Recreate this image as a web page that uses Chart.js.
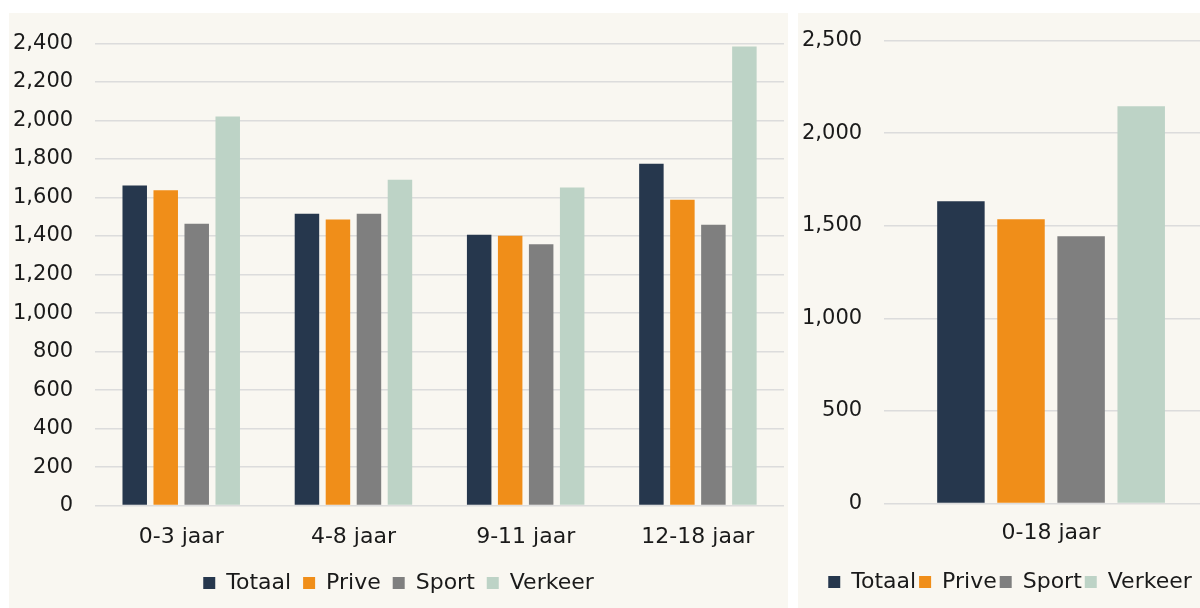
<!DOCTYPE html>
<html>
<head>
<meta charset="utf-8">
<script src="https://cdn.jsdelivr.net/npm/chart.js@4/dist/chart.umd.min.js"></script>
<style>
  html, body { margin: 0; padding: 0; background: #ffffff; overflow: hidden; width: 1200px; height: 608px; }
  .panel { position: absolute; top: 13px; height: 595px; background: #f9f7f1; }
  #leftBox { left: 9px; width: 779px; }
  #rightBox { left: 798px; width: 424px; }
</style>
</head>
<body>
<div class="panel" id="leftBox"><canvas id="leftChart"></canvas></div>
<div class="panel" id="rightBox"><canvas id="rightChart"></canvas></div>
<script>
// categories
const ageGroups = ["0-3 jaar", "4-8 jaar", "9-11 jaar", "12-18 jaar"];
const totalGroup = ["0-18 jaar"];

// series per age group
const totaal = [1662, 1516, 1407, 1775];
const prive = [1638, 1486, 1402, 1588];
const sport = [1464, 1516, 1358, 1459];
const verkeer = [2021, 1693, 1652, 2385];

// series for the whole 0-18 group
const totaalAll = [1633];
const priveAll = [1536];
const sportAll = [1444];
const verkeerAll = [2146];

const seriesNames = ["Totaal", "Prive", "Sport", "Verkeer"];
const seriesColors = ["#26374d", "#f08e19", "#7f7f7f", "#bdd3c6"];

Chart.defaults.font.family = "'DejaVu Sans', Verdana, sans-serif";
Chart.defaults.font.size = 22;
Chart.defaults.color = "#1a1a1a";
Chart.defaults.animation = false;

function makeDatasets(lists) {
  return lists.map((vals, i) => ({
    label: seriesNames[i],
    data: vals,
    backgroundColor: seriesColors[i],
    borderWidth: 0,
    categoryPercentage: 0.72,
    barPercentage: 0.79
  }));
}

// cfg: axis max, step, legend padding, top/bottom padding, label padding, extra space under x labels
function makeOptions(cfg) {
  return {
    responsive: true,
    maintainAspectRatio: false,
    locale: "en-US",
    layout: { padding: { left: 4, right: 4, top: cfg.top, bottom: cfg.bottom } },
    plugins: {
      tooltip: { enabled: false },
      legend: {
        position: "bottom",
        labels: { boxWidth: 12, boxHeight: 12, padding: cfg.legendPad }
      }
    },
    scales: {
      x: {
        grid: { display: false },
        border: { display: false },
        ticks: { padding: cfg.xPad },
        afterFit: (s) => { s.height += cfg.xExtra; }
      },
      y: {
        min: 0,
        max: cfg.max,
        ticks: { stepSize: cfg.step, padding: 22, font: { size: 21 } },
        grid: { color: "#dcdcdc", lineWidth: 1.6, drawTicks: false },
        border: { display: false },
        afterFit: (s) => { s.width -= 22; s.paddingTop = 0; }
      }
    }
  };
}

new Chart(document.getElementById("leftChart"), {
  type: "bar",
  data: {
    labels: ageGroups,
    datasets: makeDatasets([totaal, prive, sport, verkeer])
  },
  options: makeOptions({ max: 2400, step: 200, legendPad: 12, top: 30.5, bottom: 4, xPad: 10, xExtra: 0 })
});

new Chart(document.getElementById("rightChart"), {
  type: "bar",
  data: {
    labels: totalGroup,
    datasets: makeDatasets([totaalAll, priveAll, sportAll, verkeerAll])
  },
  options: makeOptions({ max: 2500, step: 500, legendPad: 3, top: 27.7, bottom: 5, xPad: 8, xExtra: 14 })
});
</script>
</body>
</html>
